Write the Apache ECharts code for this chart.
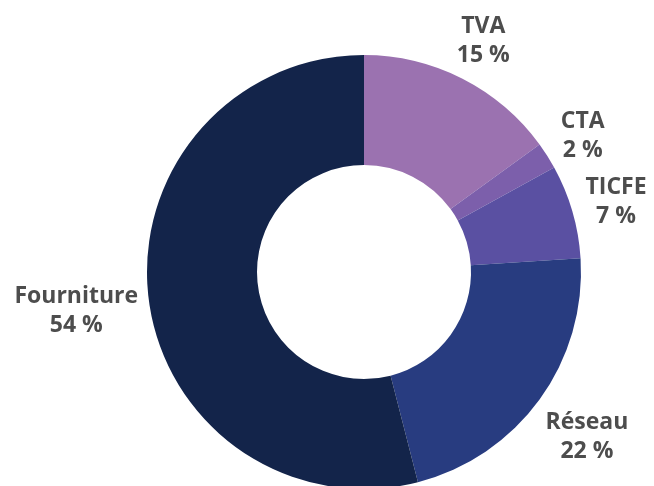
<!DOCTYPE html>
<html><head><meta charset="utf-8">
<script src="https://cdn.jsdelivr.net/npm/echarts@6/dist/echarts.min.js"></script>
<style>html,body{margin:0;padding:0;background:#fff}#c{width:654px;height:486px}</style>
</head><body><div id="c"></div>
<script>
const categories = ['TVA', 'CTA', 'TICFE', 'Réseau', 'Fourniture'];
const values = [15, 2, 7, 22, 54];
const colors = ['#9b72b0', '#7c5fab', '#5a50a2', '#283c80', '#13244a'];

const chart = echarts.init(document.getElementById('c'), null, {renderer: 'canvas'});
const LABEL_GAP = 8;
const LABEL_DY = 3;
function placeLabel(params) {
  const data = chart.getModel().getSeriesByIndex(params.seriesIndex).getData();
  const lay = data.getItemLayout(params.dataIndex);
  const mid = (lay.startAngle + lay.endAngle) / 2;
  const ux = Math.cos(mid), uy = Math.sin(mid);
  const w = params.labelRect.width / 2, h = params.labelRect.height / 2;
  const t = lay.r + LABEL_GAP + Math.abs(ux) * w + Math.abs(uy) * h;
  return {x: lay.cx + ux * t, y: lay.cy + uy * t + LABEL_DY, align: 'center', verticalAlign: 'middle'};
}
chart.setOption({
  animation: false,
  backgroundColor: '#ffffff',
  series: [{
    type: 'pie',
    center: [364, 272],
    radius: [107, 217],
    startAngle: 90,
    clockwise: true,
    avoidLabelOverlap: false,
    data: categories.map((c, i) => ({name: c, value: values[i], itemStyle: {color: colors[i]}})),
    label: {
      show: true,
      position: 'outside',
      formatter: p => p.name + '\n' + p.value + ' %',
      fontFamily: 'Open Sans',
      fontWeight: 'bold',
      fontSize: 23,
      lineHeight: 29,
      color: '#4d4d4d',
      align: 'center'
    },
    labelLine: {show: false, length: 8, length2: 0},
    labelLayout: placeLabel,
    emphasis: {disabled: true}
  }]
});
</script></body></html>
